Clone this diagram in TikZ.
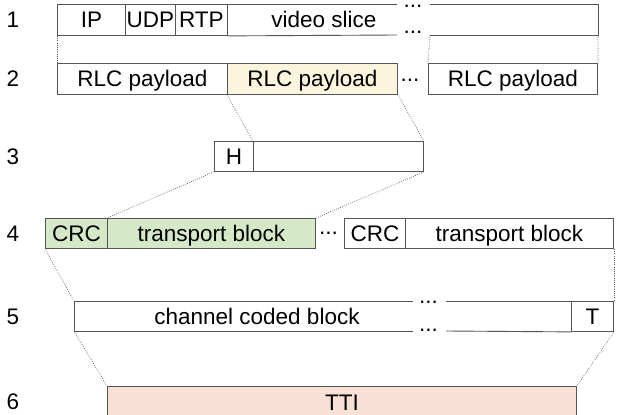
\documentclass[tikz,border=0pt]{standalone}
\usepackage{fontspec}
\setmainfont{Liberation Sans}
\definecolor{edge}{HTML}{555555}
\definecolor{divider}{HTML}{2A2A2A}
\definecolor{rlcfill}{HTML}{FCF5DE}
\definecolor{tbfill}{HTML}{D5E9C8}
\definecolor{ttifill}{HTML}{F8E1D4}
\tikzset{
  cell/.style={draw=edge, line width=0.9pt, anchor=north west, inner sep=0pt,
    minimum height=31pt, text height=16pt, text depth=0pt},
  label/.style={inner sep=0pt, text height=16pt, text depth=0pt},
  gapdots/.style={inner sep=0pt, anchor=base},
  edgeline/.style={draw=edge, line width=0.9pt},
  mapline/.style={draw=edge, line width=0.7pt, dash pattern=on 0.7pt off 1.5pt},
}
\begin{document}
\begin{tikzpicture}[x=1pt, y=-1pt, font=\fontsize{22.5}{27}\selectfont]
\clip (0,0) rectangle (619,415);
\fill[white] (0,0) rectangle (619,415);

% row numbers
\foreach \n/\y in {1/19.5, 2/78.5, 3/156, 4/233, 5/316, 6/401}
  \node[label] (num\n) at (13,\y) {\n};

% 1: IP packet carrying a video slice
\node[cell, minimum width=68pt] (ip) at (57,4) {IP};
\node[cell, minimum width=50pt] (udp) at (125,4) {UDP};
\node[cell, minimum width=52pt] (rtp) at (175,4) {RTP};
\node[label] (vid) at (324,19.5) {video slice};
\coordinate (vidtl) at (397,4);
\coordinate (vidbl) at (397,35);
\coordinate (vidtr) at (430,4);
\coordinate (vidbr) at (430,35);
\coordinate (vidte) at (598,4);
\coordinate (vidbe) at (598,35);
\draw[edgeline] (rtp.north east) -- (vidtl);
\draw[edgeline] (rtp.south east) -- (vidbl);
\draw[edgeline] (vidtr) -- (vidte) -- (vidbe) -- (vidbr);
\node[gapdots] (dots1a) at (413,7) {...};
\node[gapdots] (dots1b) at (413,34) {...};

% 2: RLC payloads
\node[cell, minimum width=170pt] (rlc1) at (57,63) {RLC payload};
\node[cell, minimum width=170pt, fill=rlcfill] (rlc2) at (227,63) {RLC payload};
\node[cell, minimum width=169pt] (rlc3) at (428,63) {RLC payload};
\node[gapdots] (dots2) at (410,81) {...};

% 3: header plus payload
\node[cell, minimum width=39pt, minimum height=30pt] (hdr) at (214,141) {H};
\node[cell, minimum width=170pt, minimum height=30pt] (body) at (253,141) {};

% 4: transport blocks
\node[cell, minimum width=62pt, minimum height=30pt, fill=tbfill] (crc1) at (45,218) {CRC};
\node[cell, minimum width=208pt, minimum height=30pt, fill=tbfill] (tb1) at (107,218) {transport block};
\node[cell, minimum width=61pt, minimum height=30pt] (crc2) at (344,218) {CRC};
\node[cell, minimum width=208pt, minimum height=30pt] (tb2) at (405,218) {transport block};
\node[gapdots] (dots4) at (328.5,234) {...};

% 5: channel coded block with tail
\node[cell, minimum width=42pt, minimum height=30pt] (tail) at (571,301) {T};
\node[label] (ccb) at (257,316) {channel coded block};
\coordinate (cctl) at (74,301);
\coordinate (ccbl) at (74,331);
\coordinate (ccta) at (413,301);
\coordinate (ccba) at (413,331);
\coordinate (cctb) at (446,301);
\coordinate (ccbb) at (446,331);
\draw[edgeline] (ccta) -- (cctl) -- (ccbl) -- (ccba);
\draw[edgeline] (cctb) -- (tail.north west);
\draw[edgeline] (ccbb) -- (tail.south west);
\node[gapdots] (dots5a) at (428.5,303) {...};
\node[gapdots] (dots5b) at (428.5,331) {...};

% 6: transmission time interval
\node[cell, minimum width=469pt, minimum height=32pt, fill=ttifill] (tti) at (107,386) {TTI};

% mapping lines between layers
\draw[mapline] (ip.south west) -- (rlc1.north west);
\draw[mapline] (vidbr) -- (rlc3.north west);
\draw[mapline] (vidbe) -- (rlc3.north east);
\draw[mapline] (rlc2.south west) -- (body.north west);
\draw[mapline] (rlc2.south east) -- (body.north east);
\draw[mapline] (hdr.south west) -- (tb1.north west);
\draw[mapline] (body.south east) -- (tb1.north east);
\draw[mapline] (crc1.south west) -- (cctl);
\draw[mapline] (tb2.south east) -- (tail.north east);
\draw[mapline] (ccbl) -- (tti.north west);
\draw[mapline] (tail.south east) -- (tti.north east);
\end{tikzpicture}
\end{document}
